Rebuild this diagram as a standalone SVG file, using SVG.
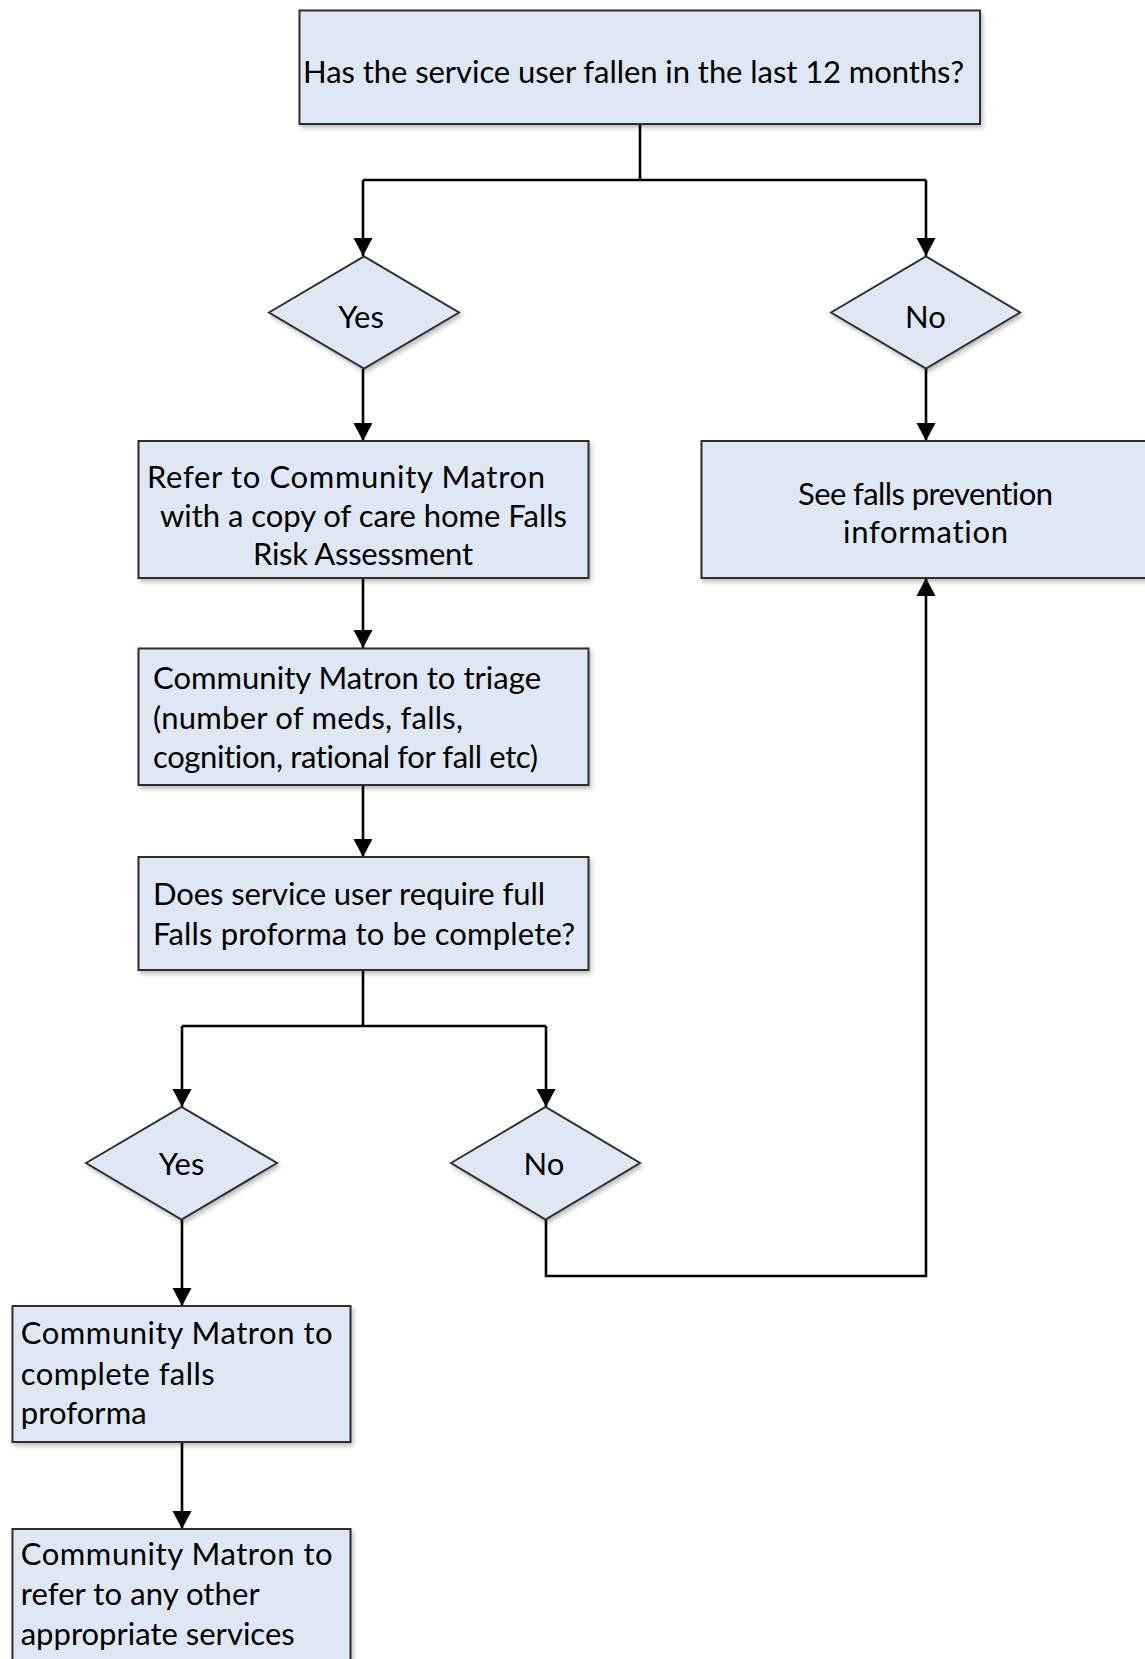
<svg xmlns="http://www.w3.org/2000/svg" width="1145" height="1659" viewBox="0 0 1145 1659">
<style>
.box{fill:#DEE8F4;stroke:#2f2f2f;stroke-width:2}
.t{font-family:Lato,"Liberation Sans",sans-serif;font-size:31px;fill:#000;font-variant-ligatures:none;font-feature-settings:"liga" 0}
.c{text-anchor:middle}
.ln{fill:none;stroke:#000;stroke-width:2.6}
</style>
<defs>
<filter id="sh" x="-5%" y="-5%" width="115%" height="120%">
<feDropShadow dx="2" dy="3" stdDeviation="2" flood-color="#000" flood-opacity="0.25"/>
</filter>
<marker id="ah" markerUnits="userSpaceOnUse" markerWidth="20" markerHeight="20" viewBox="0 0 20 20" refX="18" refY="10" orient="auto">
<path d="M0,0.5 L18,10 L0,19.5 z" fill="#000"/>
</marker>
</defs>
<rect width="1145" height="1659" fill="#fff"/>

<g id="connectors">
<path class="ln" d="M640,124 V180"/>
<path class="ln" d="M363,180 H926"/>
<path class="ln" d="M363,180 V256" marker-end="url(#ah)"/>
<path class="ln" d="M926,180 V256" marker-end="url(#ah)"/>
<path class="ln" d="M363,369 V441" marker-end="url(#ah)"/>
<path class="ln" d="M926,369 V441" marker-end="url(#ah)"/>
<path class="ln" d="M363,578 V648" marker-end="url(#ah)"/>
<path class="ln" d="M363,785 V857" marker-end="url(#ah)"/>
<path class="ln" d="M363,970 V1026"/>
<path class="ln" d="M182,1026 H546"/>
<path class="ln" d="M182,1026 V1107" marker-end="url(#ah)"/>
<path class="ln" d="M546,1026 V1107" marker-end="url(#ah)"/>
<path class="ln" d="M182,1220 V1306" marker-end="url(#ah)"/>
<path class="ln" d="M546,1220 V1276 H926 V578" marker-end="url(#ah)"/>
<path class="ln" d="M182,1442 V1529" marker-end="url(#ah)"/>
</g>

<g id="q1">
<rect class="box" filter="url(#sh)" x="299.5" y="10.5" width="680.5" height="113.5"/>
<text class="t" x="303" y="83" textLength="661">Has the service user fallen in the last 12 months?</text>
</g>

<g id="yes1">
<polygon class="box" filter="url(#sh)" points="269,312.5 364,256.5 459,312.5 364,368.5"/>
<text class="t c" x="361" y="328">Yes</text>
</g>

<g id="no1">
<polygon class="box" filter="url(#sh)" points="831,312.5 926,256.5 1020,312.5 926,368.5"/>
<text class="t c" x="925.5" y="328">No</text>
</g>

<g id="refer">
<rect class="box" filter="url(#sh)" x="138.5" y="441" width="450" height="137"/>
<text class="t" x="147" y="488" textLength="398">Refer to Community Matron</text>
<text class="t" x="160" y="527" textLength="407">with a copy of care home Falls</text>
<text class="t" x="253" y="565" textLength="220">Risk Assessment</text>
</g>

<g id="prevention">
<rect class="box" filter="url(#sh)" x="701.5" y="441" width="460" height="137"/>
<text class="t" x="798" y="505" textLength="255">See falls prevention</text>
<text class="t" x="843" y="543" textLength="165">information</text>
</g>

<g id="triage">
<rect class="box" filter="url(#sh)" x="138.5" y="648.5" width="450" height="136.5"/>
<text class="t" x="153" y="689" textLength="388">Community Matron to triage</text>
<text class="t" x="153" y="728.5" textLength="310">(number of meds, falls,</text>
<text class="t" x="153" y="768" textLength="385">cognition, rational for fall etc)</text>
</g>

<g id="q2">
<rect class="box" filter="url(#sh)" x="138.5" y="857" width="450" height="113"/>
<text class="t" x="153" y="905" textLength="392">Does service user require full</text>
<text class="t" x="153" y="945" textLength="422">Falls proforma to be complete?</text>
</g>

<g id="yes2">
<polygon class="box" filter="url(#sh)" points="86,1163 181.5,1107 277,1163 181.5,1219.5"/>
<text class="t c" x="181.5" y="1175">Yes</text>
</g>

<g id="no2">
<polygon class="box" filter="url(#sh)" points="451,1163 545.5,1107 640,1163 545.5,1219.5"/>
<text class="t c" x="544" y="1175">No</text>
</g>

<g id="complete">
<rect class="box" filter="url(#sh)" x="12.5" y="1306" width="338" height="136"/>
<text class="t" x="20.7" y="1344" textLength="312">Community Matron to</text>
<text class="t" x="20.7" y="1385" textLength="194">complete falls</text>
<text class="t" x="20.7" y="1424" textLength="126">proforma</text>
</g>

<g id="refer-other">
<rect class="box" filter="url(#sh)" x="12.5" y="1529" width="338" height="160"/>
<text class="t" x="20.7" y="1565" textLength="312">Community Matron to</text>
<text class="t" x="20.7" y="1605" textLength="239">refer to any other</text>
<text class="t" x="20.7" y="1645" textLength="274">appropriate services</text>
</g>
</svg>
